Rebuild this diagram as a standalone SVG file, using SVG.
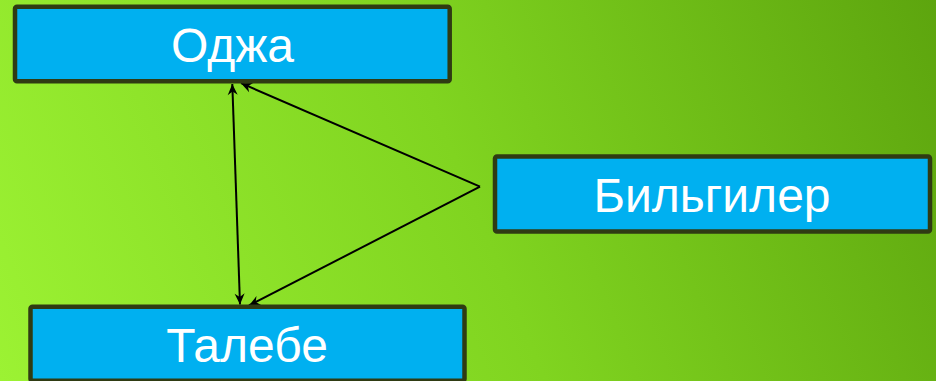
<svg xmlns="http://www.w3.org/2000/svg" width="936" height="381" viewBox="0 0 936 381">
  <defs>
    <linearGradient id="bg" x1="0" y1="381" x2="936" y2="0" gradientUnits="userSpaceOnUse">
      <stop offset="0" stop-color="#9cf233"/>
      <stop offset="0.5" stop-color="#80d420"/>
      <stop offset="1" stop-color="#5da50e"/>
    </linearGradient>
    <marker id="arr" viewBox="-12 -6 14 12" refX="0" refY="0" markerWidth="14" markerHeight="12" markerUnits="userSpaceOnUse" orient="auto-start-reverse">
      <path d="M0,0 L-11,-5 L-7.5,0 L-11,5 Z" fill="#000"/>
    </marker>
    <style>
      .box { fill: #00b0f0; stroke: #2f3b13; stroke-width: 4.5; }
      .lbl { font-family: "Liberation Sans", Arial, sans-serif; font-size: 48px; fill: #ffffff; text-anchor: middle; }
      .edge { stroke: #000; stroke-width: 2; fill: none; }
    </style>
  </defs>
  <rect x="0" y="0" width="936" height="381" fill="url(#bg)"/>
  <g id="connectors">
    <line class="edge" x1="232.3" y1="84" x2="240" y2="304.5" marker-start="url(#arr)" marker-end="url(#arr)"/>
    <line class="edge" x1="480" y1="186.7" x2="241" y2="83.2" marker-end="url(#arr)"/>
    <line class="edge" x1="480" y1="186.7" x2="249" y2="305.5" marker-end="url(#arr)"/>
  </g>
  <g id="node-odzha">
    <rect class="box" x="15" y="6.8" width="434.7" height="74.5" rx="2"/>
    <text class="lbl" x="232.5" y="62">Оджа</text>
  </g>
  <g id="node-bilgiler">
    <rect class="box" x="495" y="156.5" width="435" height="75" rx="2"/>
    <text class="lbl" x="712" y="211.5">Бильгилер</text>
  </g>
  <g id="node-talebe">
    <rect class="box" x="30.5" y="306.8" width="434" height="74" rx="2"/>
    <text class="lbl" x="247" y="361.5">Талебе</text>
  </g>
</svg>
